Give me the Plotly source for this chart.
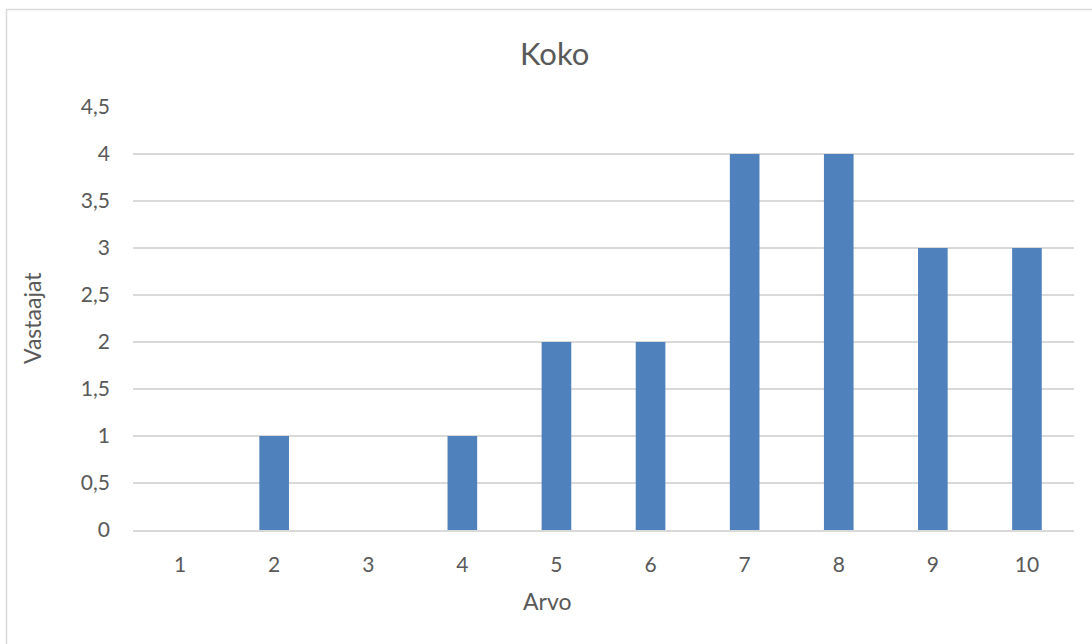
import plotly.graph_objects as go

# Vastausten jakauma arvoittain
arvot = ["1", "2", "3", "4", "5", "6", "7", "8", "9", "10"]
vastaajat = [0, 1, 0, 1, 2, 2, 4, 4, 3, 3]
y_ticks = [0, 0.5, 1, 1.5, 2, 2.5, 3, 3.5, 4, 4.5]
y_tick_text = ["0", "0,5", "1", "1,5", "2", "2,5", "3", "3,5", "4", "4,5"]

W, H = 1092, 644
L, R, T, B = 133, 18, 107, 114
pw, ph = W - L - R, H - T - B

FONT = "Lato, Carlito, 'Open Sans', sans-serif"
GREY = "#595959"
GRID = "#d9d9d9"

fig = go.Figure(
    go.Bar(
        x=arvot,
        y=vastaajat,
        marker=dict(color="#4f81bd", line=dict(width=0)),
        width=0.315,
    )
)

def px_x(p):
    return (p - L) / pw

def px_y(p):
    return (H - B - p) / ph

fig.update_layout(
    width=W,
    height=H,
    margin=dict(l=L, r=R, t=T, b=B),
    paper_bgcolor="white",
    plot_bgcolor="white",
    showlegend=False,
    font=dict(family=FONT, color=GREY),
    xaxis=dict(
        type="category",
        showgrid=False,
        showline=True,
        linecolor=GRID,
        linewidth=1.5,
        ticks="",
        tickfont=dict(size=21, color=GREY),
        ticklabelstandoff=15,
        zeroline=False,
    ),
    yaxis=dict(
        range=[0, 4.5],
        tickvals=y_ticks,
        ticktext=y_tick_text,
        showgrid=True,
        gridcolor=GRID,
        gridwidth=1.5,
        zeroline=False,
        showline=False,
        ticks="",
        tickfont=dict(size=21, color=GREY),
        ticklabelstandoff=22,
    ),
    annotations=[
        dict(text="Koko", x=px_x(554), y=px_y(53), xref="paper", yref="paper",
             showarrow=False, font=dict(size=31, color=GREY),
             xanchor="center", yanchor="middle"),
        dict(text="Arvo", x=px_x(547), y=px_y(601), xref="paper", yref="paper",
             showarrow=False, font=dict(size=23, color=GREY),
             xanchor="center", yanchor="middle"),
        dict(text="Vastaajat", x=px_x(32), y=px_y(318), xref="paper", yref="paper",
             showarrow=False, font=dict(size=23, color=GREY), textangle=-90,
             xanchor="center", yanchor="middle"),
    ],
    shapes=[
        dict(type="rect", xref="paper", yref="paper",
             x0=px_x(6.5), x1=px_x(W + 5), y0=px_y(H + 5), y1=px_y(9.5),
             line=dict(color=GRID, width=1.5), fillcolor="rgba(0,0,0,0)",
             layer="below"),
    ],
)

fig.write_html("out.html")
